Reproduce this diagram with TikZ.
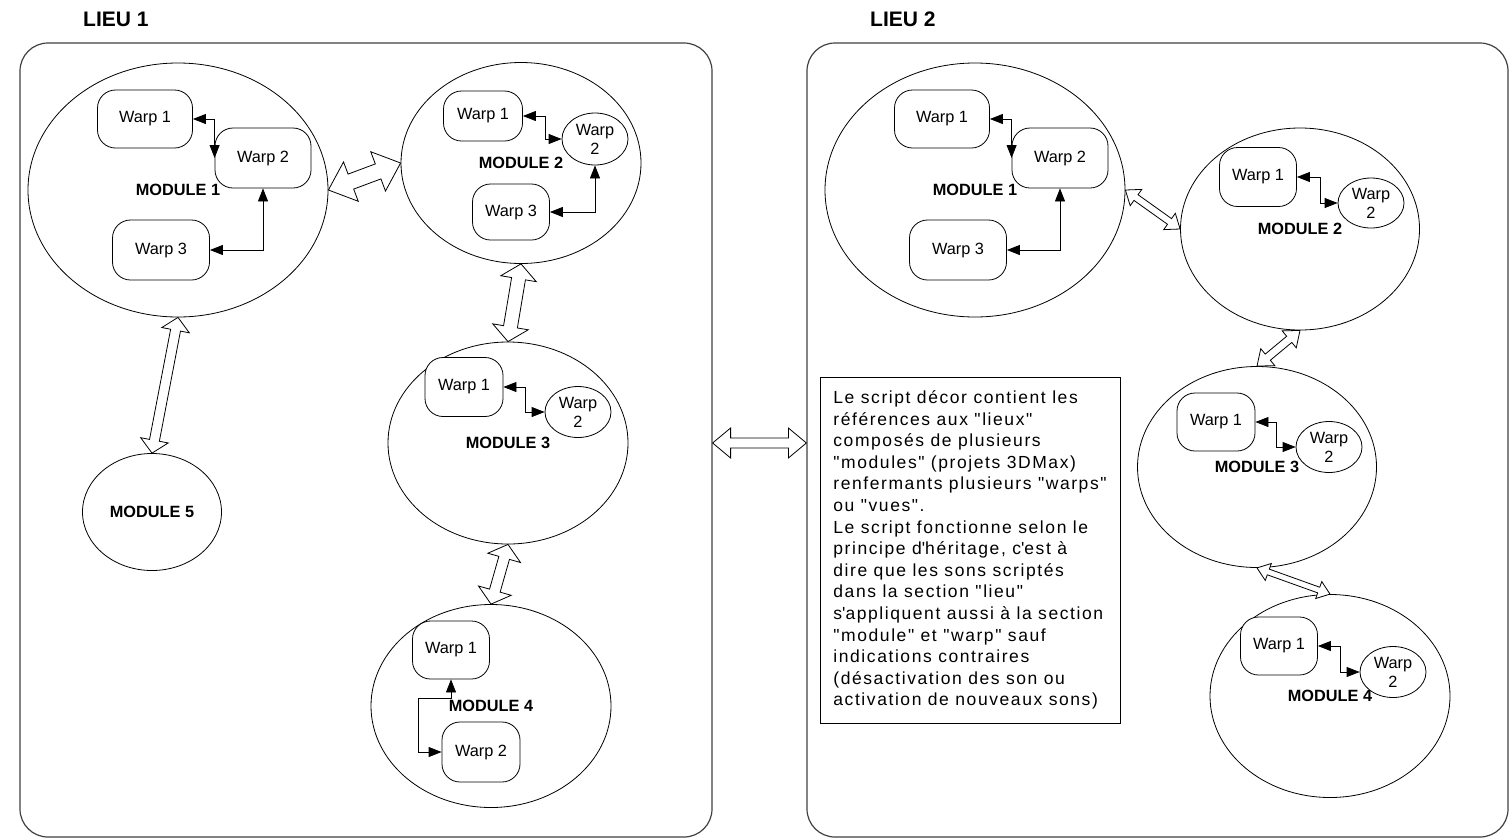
\documentclass[tikz,border=0pt]{standalone}
\usepackage{fontspec}
\setmainfont{Liberation Sans}
\newfontfamily\notefont{Liberation Sans}[LetterSpace=9]
\usetikzlibrary{calc,arrows.meta,shapes.geometric}

\tikzset{
  container/.style={draw=black!75, line width=1.2pt, rounded corners=28pt, minimum width=692pt, minimum height=794pt},
  module/.style={draw, ellipse, line width=0.8pt, inner sep=0pt, font=\bfseries\fontsize{16.3pt}{19pt}\selectfont},
  warp/.style={draw, fill=white, line width=0.8pt, rounded corners=18pt, inner sep=0pt, font=\fontsize{16.3pt}{19pt}\selectfont},
  warpoval/.style={draw, fill=white, ellipse, line width=0.8pt, inner sep=0pt, align=center, minimum width=66pt, minimum height=51pt, font=\fontsize{16.3pt}{19pt}\selectfont},
  link/.style={line width=0.8pt, {Triangle[length=13pt,width=10pt]}-{Triangle[length=13pt,width=10pt]}},
  blockarrow/.style={draw, fill=white, line width=0.8pt, line join=miter},
  lieulabel/.style={anchor=west, inner sep=0pt, font=\bfseries\fontsize{21pt}{24pt}\selectfont},
  note/.style={draw, line width=1pt, minimum width=300pt, minimum height=346pt, align=left, inner sep=0pt, font=\notefont\fontsize{17.5pt}{21.6pt}\selectfont}
}

% #1 from, #2 to, #3 shaft half width, #4 head half width, #5 head length
\newcommand{\dblarrow}[5]{%
  \draw[blockarrow] (#1)
    -- ($(#1)!#5!(#2)!#4!90:(#2)$)
    -- ($(#1)!#5!(#2)!#3!90:(#2)$)
    -- ($(#2)!#5!(#1)!#3!-90:(#1)$)
    -- ($(#2)!#5!(#1)!#4!-90:(#1)$)
    -- (#2)
    -- ($(#2)!#5!(#1)!#4!90:(#1)$)
    -- ($(#2)!#5!(#1)!#3!90:(#1)$)
    -- ($(#1)!#5!(#2)!#3!-90:(#2)$)
    -- ($(#1)!#5!(#2)!#4!-90:(#2)$)
    -- cycle;}

\begin{document}
\begin{tikzpicture}
    \useasboundingbox (0pt,0pt) rectangle (1512pt,-839pt);
    \node[lieulabel] (t1) at (83pt,-19pt) {LIEU 1};
    \node[lieulabel] (t2) at (870pt,-19pt) {LIEU 2};
    \node[container] (lieu1) at (366pt,-440pt) {};
    \node[container, minimum width=701pt] (lieu2) at (1157.5pt,-440pt) {};

    % lieu 1
    \node[module, minimum width=300pt, minimum height=254pt] (m1) at (178pt,-190pt) {MODULE 1};
    \node[module, minimum width=240pt, minimum height=201pt] (m2) at (521pt,-163pt) {MODULE 2};
    \node[module, minimum width=240pt, minimum height=202pt] (m3) at (508pt,-443pt) {MODULE 3};
    \node[module, minimum width=240pt, minimum height=203pt] (m4) at (491pt,-706pt) {MODULE 4};
    \node[module, minimum width=139pt, minimum height=117pt] (m5) at (152pt,-512pt) {MODULE 5};

    \node[warp, minimum width=95pt, minimum height=58pt] (a1) at (145pt,-119pt) {Warp 1};
    \node[warp, minimum width=96pt, minimum height=60pt] (a2) at (263pt,-158pt) {Warp 2};
    \node[warp, minimum width=97pt, minimum height=60pt] (a3) at (161pt,-250pt) {Warp 3};
    \draw[link] (a1.east) -| (a2.west);
    \draw[link] (a3.east) -| (a2.south);

    \node[warp, minimum width=79pt, minimum height=50pt] (b1) at (483pt,-116pt) {Warp 1};
    \node[warpoval, minimum height=52pt] (b2) at (595pt,-139pt) {Warp\\2};
    \node[warp, minimum width=77pt, minimum height=56pt] (b3) at (511pt,-212pt) {Warp 3};
    \draw[link] (b1.east) -- ++(22pt,0pt) |- (b2.west);
    \draw[link] (b3.east) -| (b2.south);

    \node[warp, minimum width=78pt, minimum height=59pt] (c1) at (464pt,-387pt) {Warp 1};
    \node[warpoval] (c2) at (578pt,-412pt) {Warp\\2};
    \draw[link] (c1.east) -- ++(22pt,0pt) |- (c2.west);

    \node[warp, minimum width=77pt, minimum height=58pt] (d1) at (451pt,-650pt) {Warp 1};
    \node[warp, minimum width=78pt, minimum height=60pt] (d2) at (481pt,-752pt) {Warp 2};
    \draw[link] (d1.south) |- ++(-33pt,-19pt) |- (d2.west);

    \dblarrow{m1.east}{m2.west}{8pt}{21pt}{24pt}
    \dblarrow{m2.south}{m3.north}{7pt}{18pt}{15pt}
    \dblarrow{m3.south}{m4.north}{5.5pt}{17pt}{14pt}
    \dblarrow{m1.south}{m5.north}{5pt}{14pt}{13pt}

    % lieu 1 <-> lieu 2
    \coordinate (l1) at ([yshift=-3pt]lieu1.east);
    \coordinate (l2) at ([yshift=-3pt]lieu2.west);
    \dblarrow{l1}{l2}{5pt}{15pt}{18pt}

    % lieu 2
    \node[module, minimum width=300pt, minimum height=254pt] (r1) at (975pt,-190pt) {MODULE 1};
    \node[module, minimum width=239pt, minimum height=202pt] (r2) at (1300pt,-229pt) {MODULE 2};
    \node[module, minimum width=239pt, minimum height=201pt] (r3) at (1257pt,-467pt) {MODULE 3};
    \node[module, minimum width=240pt, minimum height=203pt] (r4) at (1330pt,-696pt) {MODULE 4};

    \node[warp, minimum width=95pt, minimum height=58pt] (e1) at (942pt,-119pt) {Warp 1};
    \node[warp, minimum width=96pt, minimum height=60pt] (e2) at (1060pt,-158pt) {Warp 2};
    \node[warp, minimum width=97pt, minimum height=60pt] (e3) at (958pt,-250pt) {Warp 3};
    \draw[link] (e1.east) -| (e2.west);
    \draw[link] (e3.east) -| (e2.south);

    \node[warp, minimum width=77pt, minimum height=59pt] (f1) at (1258pt,-177pt) {Warp 1};
    \node[warpoval, minimum height=50pt] (f2) at (1371pt,-203pt) {Warp\\2};
    \draw[link] (f1.east) -- ++(23pt,0pt) |- (f2.west);

    \node[warp, minimum width=78pt, minimum height=58pt] (g1) at (1216pt,-422pt) {Warp 1};
    \node[warpoval] (g2) at (1329pt,-447pt) {Warp\\2};
    \draw[link] (g1.east) -- ++(21pt,0pt) |- (g2.west);

    \node[warp, minimum width=77pt, minimum height=58pt] (h1) at (1279pt,-646pt) {Warp 1};
    \node[warpoval] (h2) at (1393pt,-672pt) {Warp\\2};
    \draw[link] (h1.east) -- ++(22pt,0pt) |- (h2.west);

    \dblarrow{r1.east}{r2.west}{3.5pt}{10pt}{13pt}
    \dblarrow{r2.south}{r3.north}{4pt}{11pt}{14pt}
    \dblarrow{r3.south}{r4.north}{3pt}{9pt}{12pt}

    \node[note] (txt) at (970pt,-550pt) {Le script décor contient les\\
      références aux "lieux"\\
      composés de plusieurs\\
      "modules" (projets 3DMax)\\
      renfermants plusieurs "warps"\\
      ou "vues".\\
      Le script fonctionne selon le\\
      principe d\textquotesingle héritage, c\textquotesingle est à\\
      dire que les sons scriptés\\
      dans la section "lieu"\\
      s\textquotesingle appliquent aussi à la section\\
      "module" et "warp" sauf\\
      indications contraires\\
      (désactivation des son ou\\
      activation de nouveaux sons)};
\end{tikzpicture}
\end{document}
